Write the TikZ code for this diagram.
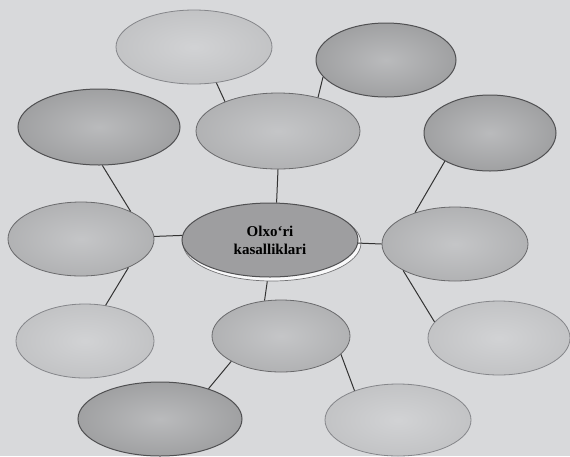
\documentclass[tikz,border=0pt]{standalone}
\usepackage{fontspec}
\setmainfont{Liberation Serif}
\usetikzlibrary{shapes.geometric}
\definecolor{bg}{HTML}{D8D9DB}
\definecolor{edgedark}{HTML}{505052}
\definecolor{edgelight}{HTML}{85868A}
\tikzset{
  blob/.style={ellipse, inner sep=0pt, line width=0.8pt},
  lightblob/.style={blob, draw=edgelight, inner color=bg!97!black, outer color=bg!90!black},
  medblob/.style={blob, draw=edgedark!85, inner color=bg!91!black, outer color=bg!82!black},
  darkblob/.style={blob, draw=edgedark, line width=1pt, inner color=bg!86!black, outer color=bg!74!black},
  centreblob/.style={blob, draw=edgedark, line width=1pt, fill=bg!73!black, align=center,
    font=\bfseries\fontsize{15}{18}\selectfont},
  rimblob/.style={blob, draw=edgedark!80, fill=white!85!bg, line width=0.7pt},
  link/.style={draw=black!80, line width=1pt},
}
\begin{document}
\begin{tikzpicture}[x=1pt,y=-1pt]
\useasboundingbox (0,0) rectangle (570,456);
\fill[bg] (0,0) rectangle (570,456);

\node[lightblob, minimum width=156pt, minimum height=74pt] (n1) at (194,47) {};
\node[darkblob,  minimum width=140pt, minimum height=74pt] (n2) at (386,60) {};
\node[darkblob,  minimum width=162pt, minimum height=76pt] (n3) at (99,127) {};
\node[medblob,   minimum width=164pt, minimum height=76pt] (n4) at (278,131) {};
\node[darkblob,  minimum width=132pt, minimum height=76pt] (n5) at (490,133) {};
\node[medblob,   minimum width=146pt, minimum height=74pt] (n6) at (81,239) {};
\node[rimblob,   minimum width=178pt, minimum height=76pt] (rim) at (272,243) {};
\node[centreblob,minimum width=176pt, minimum height=74pt] (n7) at (270,240) {Olxo‘ri\\kasalliklari};
\node[medblob,   minimum width=146pt, minimum height=74pt] (n8) at (455,244) {};
\node[lightblob, minimum width=138pt, minimum height=74pt] (n9) at (85,341) {};
\node[medblob,   minimum width=138pt, minimum height=72pt] (n10) at (281,336) {};
\node[lightblob, minimum width=142pt, minimum height=74pt] (n11) at (499,338) {};
\node[darkblob,  minimum width=164pt, minimum height=74pt] (n12) at (160,419) {};
\node[lightblob, minimum width=146pt, minimum height=72pt] (n13) at (398,420) {};

\draw[link] (n1.-58.6) -- (n4.151.4);
\draw[link] (n2.-165.3) -- (n4.40.6);
\draw[link] (n3.-85.5) -- (n6.29);
\draw[link] (n4.-90) -- (n7.80);
\draw[link] (n5.-148.7) -- (n8.142.9);
\draw[link] (n6.2) -- (n7.177);
\draw[link] (n7.-2) -- (n8.180);
\draw[link] (n6.-31.3) -- (n9.60.3);
\draw[link] (rim.-97.5) -- (n10.115.9);
\draw[link] (n8.-153) -- (n11.166.2);
\draw[link] (n10.-153.9) -- (n12.32.5);
\draw[link] (n10.-17.5) -- (n13.146.9);
\end{tikzpicture}
\end{document}
